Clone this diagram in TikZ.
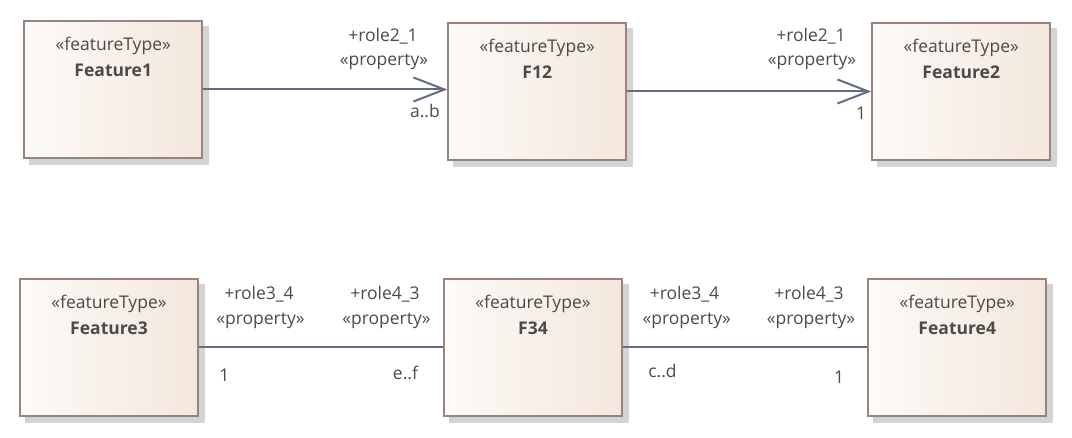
\documentclass[tikz,border=0pt]{standalone}
\usepackage{fontspec}
\setmainfont{Open Sans}
\usetikzlibrary{arrows.meta,calc}
\definecolor{txt}{HTML}{4A4A4A}
\definecolor{edge}{HTML}{9A8282}
\definecolor{conncol}{HTML}{646C84}
\definecolor{shad}{HTML}{D4D4D4}
\definecolor{fillL}{HTML}{FDFAF8}
\definecolor{fillR}{HTML}{F3E7DC}
\tikzset{
  ftbox/.style={rectangle,draw=edge,line width=2pt,minimum width=178pt,minimum height=137pt,
    left color=fillL,right color=fillR,inner sep=0pt},
  lbl/.style={text=txt,font=\fontsize{17.5}{20}\selectfont,inner sep=0pt,anchor=base},
  nm/.style={text=txt,font=\fontsize{17.5}{20}\selectfont\bfseries,inner sep=0pt,anchor=base},
  conn/.style={draw=conncol,line width=2pt},
  nav/.style={conn,-{Straight Barb[length=31pt,width=24pt]}}
}
\begin{document}
\begin{tikzpicture}[x=1pt,y=-1pt]
\useasboundingbox (0,0) rectangle (1072,438);
% shadows
\foreach \cx/\cy in {113.25/89.5,537.25/91.5,961.25/91.5,109/347.25,533/347.25,957.25/347.5}{
  \fill[shad] (\cx-90+6,\cy-69.5+6) rectangle (\cx+90+6,\cy+69.5+6);
}
% boxes
\node[ftbox] (f1) at (113.25,89.5) {};
\node[ftbox] (f12) at (537.25,91.5) {};
\node[ftbox] (f2) at (961.25,91.5) {};
\node[ftbox] (f3) at (109,347.25) {};
\node[ftbox] (f34) at (533,347.25) {};
\node[ftbox] (f4) at (957.25,347.5) {};
% box texts
\foreach \b/\n in {f1/Feature1,f12/F12,f2/Feature2,f3/Feature3,f34/F34,f4/Feature4}{
  \node[lbl] (\b st) at ($(\b.north)+(0,31)$) {«featureType»};
  \node[nm] (\b nm) at ($(\b.north)+(0,57)$) {\n};
}
% connectors
\draw[nav] (f1.east) -- (f1.east -| f12.west);
\draw[nav] (f12.east) -- (f12.east -| f2.west);
\draw[conn] (f3.east) -- (f3.east -| f34.west);
\draw[conn] (f34.east) -- (f34.east -| f4.west);
% top labels
\node[lbl] (r1) at (383,42) {+role2\_1};
\node[lbl] (p1) at (384,66) {«property»};
\node[lbl,anchor=base east] (m1) at (440,118) {a..b};
\node[lbl] (r2) at (811,42) {+role2\_1};
\node[lbl] (p2) at (812,66) {«property»};
\node[lbl] (m2) at (861,120) {1};
% bottom labels
\node[lbl] (r3) at (259,300) {+role3\_4};
\node[lbl] (p3) at (260.5,325) {«property»};
\node[lbl] (m3) at (224.5,382) {1};
\node[lbl] (r4) at (385,300) {+role4\_3};
\node[lbl] (p4) at (386.5,325) {«property»};
\node[lbl] (m4) at (405.5,380) {e..f};
\node[lbl] (r5) at (684.5,300) {+role3\_4};
\node[lbl] (p5) at (686.7,325) {«property»};
\node[lbl] (m5) at (662.5,378) {c..d};
\node[lbl] (r6) at (809,300) {+role4\_3};
\node[lbl] (p6) at (811,325) {«property»};
\node[lbl] (m6) at (839,384) {1};
\end{tikzpicture}
\end{document}
